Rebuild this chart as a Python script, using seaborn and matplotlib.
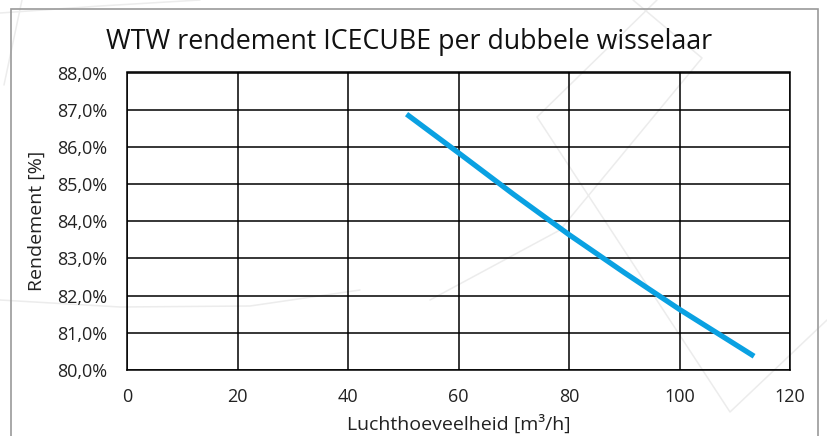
import matplotlib
matplotlib.use("Agg")
import matplotlib.pyplot as plt
import numpy as np
import pandas as pd
import seaborn as sns
from matplotlib.lines import Line2D
from matplotlib.patches import Rectangle
from matplotlib.ticker import FuncFormatter

# values
flow = [50.6, 60, 70, 80, 90, 100, 113.5]            # m3/h
efficiency = [86.88, 85.84, 84.72, 83.64, 82.62, 81.63, 80.37]  # %
x_ticks = [0, 20, 40, 60, 80, 100, 120]
y_ticks = [80, 81, 82, 83, 84, 85, 86, 87, 88]

TITLE = "WTW rendement ICECUBE per dubbele wisselaar"
XLABEL = "Luchthoeveelheid [m³/h]"
YLABEL = "Rendement [%]"
LINE_COLOR = "#0aa1e2"

sns.set_theme(style="white")
plt.rcParams["font.family"] = ["Open Sans", "DejaVu Sans"]

df = pd.DataFrame({"flow": flow, "eff": efficiency})

fig = plt.figure(figsize=(8.27, 4.36), dpi=100)
W, H = 827, 436

# faint decorative background lines (watermark in the reference)
deco = [
    [(22, 0), (4, 85)],
    [(0, 13), (100, 6), (200, 0)],
    [(0, 300), (120, 307), (250, 306), (360, 290)],
    [(657, 0), (537, 117), (730, 412), (827, 320)],
    [(633, 0), (702, 58), (560, 230), (430, 300)],
]
for pts in deco:
    xs = [p[0] / W for p in pts]
    ys = [1 - p[1] / H for p in pts]
    fig.add_artist(Line2D(xs, ys, transform=fig.transFigure, color="#ececec",
                          lw=1.1, zorder=0))

# chart frame
fig.add_artist(Rectangle((11 / W, -0.05), (818 - 11) / W, 1.05 - 9 / H,
                         transform=fig.transFigure, fill=False,
                         edgecolor="#9a9a9a", lw=1.2, zorder=1))

ax = fig.add_axes([127 / W, 1 - 370 / H, (790 - 127) / W, (370 - 72.5) / H])
ax.patch.set_alpha(0)

sns.lineplot(data=df, x="flow", y="eff", ax=ax, color=LINE_COLOR, lw=3.8,
             solid_capstyle="butt", zorder=3)

ax.set_xlim(0, 120)
ax.set_ylim(80, 88)
ax.set_xticks(x_ticks)
ax.set_yticks(y_ticks)
ax.yaxis.set_major_formatter(FuncFormatter(lambda v, _: f"{v:.1f}%".replace(".", ",")))
ax.grid(True, color="black", lw=1.1)
ax.set_axisbelow(True)
for s in ax.spines.values():
    s.set_color("black")
    s.set_linewidth(1.1)
ax.tick_params(axis="both", length=0, labelsize=13, colors="#222222")
ax.tick_params(axis="y", pad=14)
ax.tick_params(axis="x", pad=13)

ax.set_xlabel(XLABEL, fontsize=14, color="#222222", labelpad=6)
ax.set_ylabel(YLABEL, fontsize=14, color="#222222", labelpad=8)

fig.text(409 / W, 1 - 42 / H, TITLE, ha="center", va="center", fontsize=19.3,
         color="#111111")

fig.savefig("out.png", dpi=100)
